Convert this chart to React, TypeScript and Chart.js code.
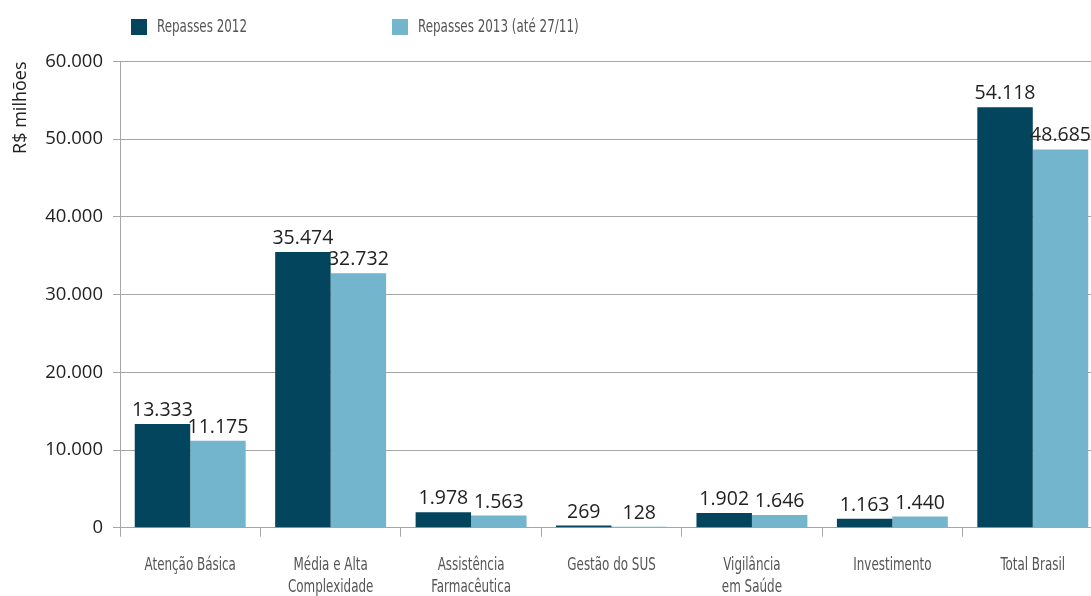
import React, { useEffect, useRef } from "react";
import { Chart, registerables } from "chart.js";

Chart.register(...registerables);

const categories: string[][] = [
  ["Atenção Básica"],
  ["Média e Alta", "Complexidade"],
  ["Assistência", "Farmacêutica"],
  ["Gestão do SUS"],
  ["Vigilância", "em Saúde"],
  ["Investimento"],
  ["Total Brasil"],
];
const seriesNames = ["Repasses 2012", "Repasses 2013 (até 27/11)"];
const repasses2012 = [13333, 35474, 1978, 269, 1902, 1163, 54118];
const repasses2013 = [11175, 32732, 1563, 128, 1646, 1440, 48685];
const colors = ["#03455d", "#72b5cc"];
const yTicks = [0, 10000, 20000, 30000, 40000, 50000, 60000];

const fmt = (v: number) =>
  String(Math.round(v)).replace(/\B(?=(\d{3})+(?!\d))/g, ".");

const NUM_FONT = "'Open Sans', 'DejaVu Sans', sans-serif";
const NARROW_FONT = "'Liberation Sans Narrow', 'DejaVu Sans Condensed', sans-serif";
const SQUEEZE = 0.78;

const W = 1103;
const H = 610;

function narrowText(ctx: any, text: string, x: number, y: number, align: string) {
  ctx.save();
  ctx.translate(x, y);
  ctx.scale(SQUEEZE, 1);
  ctx.textAlign = align;
  ctx.fillText(text, 0, 0);
  ctx.restore();
}

export default function App() {
  const ref = useRef<HTMLCanvasElement | null>(null);
  useEffect(() => {
    if (!ref.current) return;
    const valueLabels = {
      id: "valueLabels",
      afterDatasetsDraw(chart: any) {
        const ctx = chart.ctx;
        ctx.save();
        ctx.font = `19.5px ${NUM_FONT}`;
        ctx.fillStyle = "#222";
        ctx.textAlign = "center";
        ctx.textBaseline = "alphabetic";
        chart.data.datasets.forEach((ds: any, i: number) => {
          const meta = chart.getDatasetMeta(i);
          meta.data.forEach((bar: any, j: number) => {
            ctx.fillText(fmt(ds.data[j]), bar.x, bar.y - 8);
          });
        });
        ctx.restore();
      },
    };
    const narrowLabels = {
      id: "narrowLabels",
      afterDraw(chart: any) {
        const ctx = chart.ctx;
        ctx.save();
        ctx.fillStyle = "#555";
        ctx.font = `17px ${NARROW_FONT}`;
        ctx.textBaseline = "middle";
        const xs = chart.scales.x;
        const bottom = chart.chartArea.bottom;
        categories.forEach((lines, i) => {
          const cx = xs.getPixelForValue(i);
          lines.forEach((line, k) => {
            narrowText(ctx, line, cx, bottom + 38 + k * 21.5, "center");
          });
        });
        const lx = [131, 392];
        seriesNames.forEach((name, i) => {
          ctx.fillStyle = colors[i];
          ctx.fillRect(lx[i], 19, 16, 16);
          ctx.fillStyle = "#555";
          narrowText(ctx, name, lx[i] + 26, 28, "left");
        });
        ctx.restore();
      },
    };
    const chart = new Chart(ref.current, {
      type: "bar",
      data: {
        labels: categories.map((c) => c.join(" ")),
        datasets: [
          {
            label: seriesNames[0],
            data: repasses2012,
            backgroundColor: colors[0],
            categoryPercentage: 0.79,
            barPercentage: 1,
          },
          {
            label: seriesNames[1],
            data: repasses2013,
            backgroundColor: colors[1],
            categoryPercentage: 0.79,
            barPercentage: 1,
          },
        ],
      },
      options: {
        responsive: false,
        animation: false,
        layout: { padding: { top: 61.5, left: 0, right: 0, bottom: 0 } },
        plugins: {
          legend: { display: false },
          tooltip: { enabled: false },
        },
        scales: {
          x: {
            grid: {
              display: true,
              drawOnChartArea: false,
              drawTicks: true,
              tickLength: 9,
              color: "#a6a6a6",
              offset: true,
            },
            border: { display: false },
            ticks: { display: false },
            afterFit: (scale: any) => {
              scale.height = H - 527.7;
            },
          },
          y: {
            min: 0,
            max: 60000,
            afterBuildTicks: (scale: any) => {
              scale.ticks = yTicks.map((v) => ({ value: v }));
            },
            grid: {
              color: "#a6a6a6",
              tickLength: 7,
              drawTicks: true,
              lineWidth: 1,
            },
            border: { display: true, color: "#a6a6a6" },
            ticks: {
              color: "#222",
              font: { family: NUM_FONT, size: 18.5 },
              padding: 10,
              callback: (v: any) => fmt(Number(v)),
            },
            title: {
              display: true,
              text: "R$ milhões",
              align: "end",
              color: "#222",
              font: { family: NUM_FONT, size: 18 },
              padding: { top: 10, bottom: 0 },
            },
            afterFit: (scale: any) => {
              scale.width = 120;
            },
          },
        },
      },
      plugins: [valueLabels, narrowLabels],
    });
    return () => chart.destroy();
  }, []);
  return (
    <div style={{ position: "fixed", left: 0, top: 0, width: W, height: H, background: "#fff" }}>
      <canvas ref={ref} width={W} height={H} style={{ width: W, height: H, display: "block" }} />
    </div>
  );
}
